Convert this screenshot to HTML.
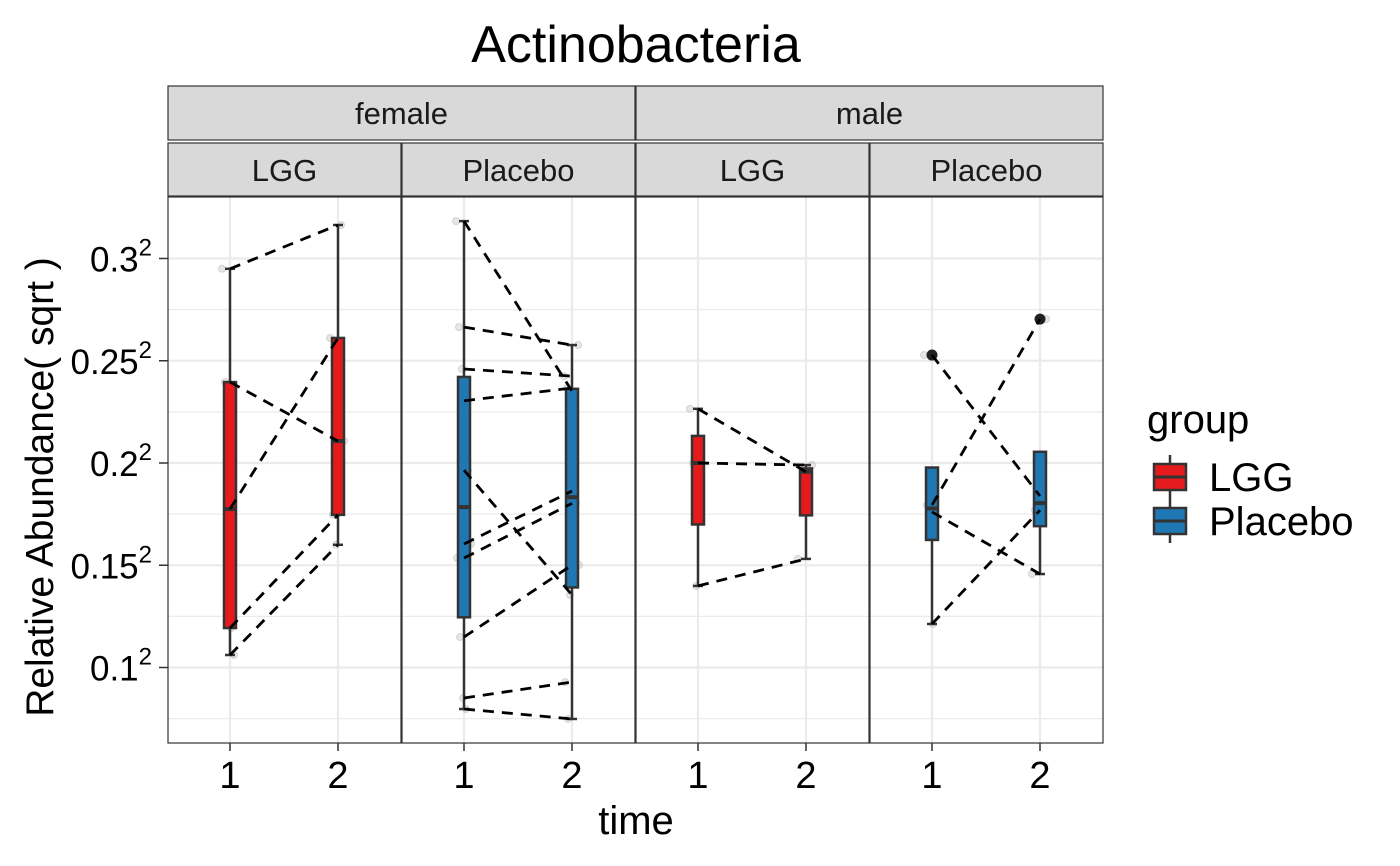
<!DOCTYPE html>
<html><head><meta charset="utf-8"><style>
html,body{margin:0;padding:0;background:#fff;}
svg{display:block;font-family:"Liberation Sans",sans-serif;}
</style></head><body>
<svg id="chart" width="1400" height="866" viewBox="0 0 1400 866"></svg>
<script>
// ---- data (relative abundance; paired time1 -> time2 per subject) ----
const panelSex = ["female","female","male","male"];
const panelGroup = ["LGG","Placebo","LGG","Placebo"];
const time1Values = [
  [0.0870,0.0574,0.0315,0.01423,0.01126],
  [0.1013,0.0710,0.0605,0.0531,0.0386,0.02573,0.02357,0.01320,0.00724,0.00635],
  [0.0513,0.0400,0.01957],
  [0.0639,0.0322,0.0310,0.01471]
];
const time2Values = [
  [0.1001,0.0444,0.0682,0.0305,0.0256],
  [0.0553,0.0664,0.0588,0.0560,0.01836,0.0347,0.0325,0.02253,0.00863,0.00560],
  [0.0383,0.0396,0.02344],
  [0.0338,0.0731,0.02123,0.0313]
];
const yTickValues = [0.1,0.15,0.2,0.25,0.3];
const yTickLabels = ["0.1","0.15","0.2","0.25","0.3"];
const yMinorValues = [0.075,0.125,0.175,0.225,0.275];
const xTickLabels = ["1","2"];
const groupColors = {LGG:"#E41A1C", Placebo:"#1F78B4"};

// ---- layout ----
const svg = document.getElementById('chart');
const NS = "http://www.w3.org/2000/svg";
const plotTop = 197, plotBottom = 743;
const panelLefts = [168,402,636,870], panelW = 233;
function y(s){ return 463 - (s - 0.2) * 2045; }
function yv(v){ return y(Math.sqrt(v)); }
function x(panel, t){ return panelLefts[panel] + 62 + (t-1)*108; }
function mk(tag, attrs, parent){
  const e = document.createElementNS(NS, tag);
  for (const k in attrs) e.setAttribute(k, attrs[k]);
  (parent||svg).appendChild(e); return e;
}
function txt(str, attrs, parent){ const e = mk('text', attrs, parent); e.textContent = str; return e; }

let t = txt("Actinobacteria",{x:636,y:62,'font-size':52,'text-anchor':'middle',fill:'#000'});



for (let s=0;s<2;s++){
  const g = mk('g',{});
  
  
  const x0 = panelLefts[s*2], x1 = panelLefts[s*2+1]+panelW;
  mk('rect',{x:x0,y:86,width:x1-x0,height:54,fill:'#D9D9D9',stroke:'#333','stroke-width':1.2},g);
  txt(s===0?"female":"male",{x:(x0+x1)/2,y:124,'font-size':31,'text-anchor':'middle',fill:'#1A1A1A'},g);
}
for (let p=0;p<4;p++){
  const g = mk('g',{});
  
  
  mk('rect',{x:panelLefts[p],y:143,width:panelW,height:53,fill:'#D9D9D9',stroke:'#333','stroke-width':1.2},g);
  txt(panelGroup[p],{x:panelLefts[p]+panelW/2,y:181,'font-size':31,'text-anchor':'middle',fill:'#1A1A1A'},g);
}

function quantile(sorted,q){
  const pos=(sorted.length-1)*q, lo=Math.floor(pos), hi=Math.ceil(pos);
  return sorted[lo]+(sorted[hi]-sorted[lo])*(pos-lo);
}

for (let p=0;p<4;p++){
  const g = mk('g',{});
  
  
  const x0 = panelLefts[p];
  mk('rect',{x:x0,y:plotTop,width:panelW,height:plotBottom-plotTop,fill:'#fff'},g);
  yMinorValues.forEach(v=>{ const yy=y(v); mk('line',{x1:x0,x2:x0+panelW,y1:yy,y2:yy,stroke:'#EBEBEB','stroke-width':1.2},g); });
  yTickValues.forEach(v=>{ const yy=y(v); mk('line',{x1:x0,x2:x0+panelW,y1:yy,y2:yy,stroke:'#EBEBEB','stroke-width':2.2},g); });
  [1,2].forEach(tt=>{ mk('line',{x1:x(p,tt),x2:x(p,tt),y1:plotTop,y2:plotBottom,stroke:'#EBEBEB','stroke-width':2.2},g); });

  [time1Values[p],time2Values[p]].forEach((arr,ti)=>{
    arr.forEach((v,i)=>{
      const jit = ((i*37+ti*11)%17)-8;
      const c = mk('circle',{cx:x(p,ti+1)+jit,cy:yv(v),r:3.5,fill:'#BBB','fill-opacity':0.35,stroke:'#999','stroke-opacity':0.35},g);
      
      
    });
  });

  [time1Values[p],time2Values[p]].forEach((arr,ti)=>{
    const s = arr.map(v=>Math.sqrt(v)).sort((a,b)=>a-b);
    const q1=quantile(s,0.25), med=quantile(s,0.5), q3=quantile(s,0.75), iqr=q3-q1;
    const lo = s.filter(v=>v>=q1-1.5*iqr)[0], hi = s.filter(v=>v<=q3+1.5*iqr).slice(-1)[0];
    const cx = x(p,ti+1);
    const bg = mk('g',{},g);
    
    
    if (hi>q3){ mk('line',{x1:cx,x2:cx,y1:y(q3),y2:y(hi),stroke:'#333','stroke-width':2.5},bg);
      mk('line',{x1:cx-5,x2:cx+5,y1:y(hi),y2:y(hi),stroke:'#333','stroke-width':2.5},bg); }
    if (lo<q1){ mk('line',{x1:cx,x2:cx,y1:y(q1),y2:y(lo),stroke:'#333','stroke-width':2.5},bg);
      mk('line',{x1:cx-5,x2:cx+5,y1:y(lo),y2:y(lo),stroke:'#333','stroke-width':2.5},bg); }
    mk('rect',{x:cx-6,y:y(q3),width:12,height:y(q1)-y(q3),fill:groupColors[panelGroup[p]],stroke:'#333','stroke-width':2.5},bg);
    mk('line',{x1:cx-6,x2:cx+6,y1:y(med),y2:y(med),stroke:'#333','stroke-width':4},bg);
    s.filter(v=>v<lo||v>hi).forEach(v=>{
      const o = mk('circle',{cx:cx,cy:y(v),r:5.5,fill:'#222'},bg);
      
      
    });
  });

  time1Values[p].forEach((v,i)=>{
    const l = mk('line',{x1:x(p,1),y1:yv(v),x2:x(p,2),y2:yv(time2Values[p][i]),stroke:'#000','stroke-width':2.8,'stroke-dasharray':'11,8'},g);
    
    
  });
  mk('rect',{x:x0,y:plotTop,width:panelW,height:plotBottom-plotTop,fill:'none',stroke:'#333','stroke-width':1.2},g);

  xTickLabels.forEach((lab,i)=>{
    const xx = x(p,i+1);
    mk('line',{x1:xx,x2:xx,y1:plotBottom,y2:plotBottom+8,stroke:'#333','stroke-width':1.5},g);
    const tl = txt(lab,{x:xx,y:788,'font-size':38,'text-anchor':'middle',fill:'#000'},g);
    
    
  });
}

const ya = mk('g',{});


yTickValues.forEach((v,i)=>{
  const yy = y(v);
  mk('line',{x1:159,x2:168,y1:yy,y2:yy,stroke:'#333','stroke-width':1.5},ya);
  const tl = txt('',{x:152,y:yy+13,'font-size':35,'text-anchor':'end',fill:'#000'},ya);
  
  
  const a = document.createElementNS(NS,'tspan'); a.textContent = yTickLabels[i]; tl.appendChild(a);
  const b = document.createElementNS(NS,'tspan'); b.textContent = '2'; b.setAttribute('dy','-16'); b.setAttribute('font-size','24'); tl.appendChild(b);
});
let yt = txt("Relative Abundance( sqrt )",{x:0,y:0,'font-size':39,'text-anchor':'middle',fill:'#000',transform:'translate(53,487) rotate(-90)'});


let xt = txt("time",{x:636,y:834,'font-size':40,'text-anchor':'middle',fill:'#000'});



const lg = mk('g',{});


txt("group",{x:1147,y:433,'font-size':40,fill:'#000'},lg);
["LGG","Placebo"].forEach((name,i)=>{
  const e = mk('g',{},lg);
  
  
  const cy = 477 + i*44;
  mk('line',{x1:1170,x2:1170,y1:cy-22,y2:cy+22,stroke:'#333','stroke-width':2.5},e);
  mk('rect',{x:1154,y:cy-13,width:32,height:26,fill:groupColors[name],stroke:'#333','stroke-width':2.5},e);
  mk('line',{x1:1154,x2:1186,y1:cy,y2:cy,stroke:'#333','stroke-width':3},e);
  txt(name,{x:1209,y:cy+14,'font-size':40,fill:'#000'},e);
});
</script>
</body></html>
